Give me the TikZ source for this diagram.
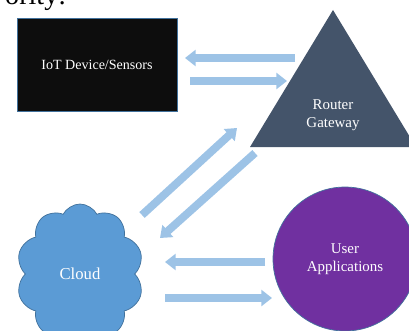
\documentclass[tikz,border=0pt]{standalone}
\usepackage{fontspec}
\setmainfont{Liberation Serif}
\usetikzlibrary{positioning}
\usetikzlibrary{arrows.meta}
\usetikzlibrary{shapes.symbols}
\definecolor{arrowblue}{HTML}{9DC3E6}
\definecolor{edgeblue}{HTML}{41719C}
\definecolor{slate}{HTML}{44546A}
\definecolor{cloudblue}{HTML}{5B9BD5}
\definecolor{purple}{HTML}{7030A0}
\tikzset{
  flow/.style = {draw = arrowblue, line width = 4.5pt,
                 -{Triangle[width = 9pt, length = 6pt]}},
  label/.style = {text = white, align = center,
                  font = \fontsize{8.5}{10}\selectfont}
}

\begin{document}
\begin{tikzpicture}[x = 0.02cm, y = -0.02cm]
\useasboundingbox (0,0) rectangle (409,331);
\clip (0,0) rectangle (409,331);

\node[anchor = base west, font = \fontsize{16}{18}\selectfont] (head) at (-1,5) {ority:};

\node[draw = edgeblue, fill = black!95, minimum width = 3.2cm, minimum height = 1.86cm,
      label, font = \fontsize{8}{10}\selectfont] (iot) at (97,64.5) {IoT Device/Sensors};

\fill[slate] (333,10) -- (416,147) -- (250,147) -- cycle;
\node[label] (router) at (333,115) {Router\\Gateway};

\node[cloud, cloud puffs = 10, cloud puff arc = 125, cloud ignores aspect,
      draw = edgeblue, fill = cloudblue, minimum width = 2.55cm, minimum height = 2.8cm,
      label, font = \fontsize{9.5}{11}\selectfont] (cloud) at (80,274) {Cloud};

\node[circle, draw = edgeblue, fill = purple, minimum size = 2.88cm,
      label] (user) at (345,259) {User\\Applications};

\coordinate (a1) at (295,58);  \coordinate (b1) at (185,58);
\coordinate (a2) at (190,81);  \coordinate (b2) at (287,81);
\coordinate (a3) at (142,215); \coordinate (b3) at (237,128);
\coordinate (a4) at (255,153); \coordinate (b4) at (160,238);
\coordinate (a5) at (265,262); \coordinate (b5) at (165,262);
\coordinate (a6) at (165,298); \coordinate (b6) at (272,298);

\foreach \i in {1,...,6}
  \draw[flow] (a\i) -- (b\i);
\end{tikzpicture}
\end{document}
